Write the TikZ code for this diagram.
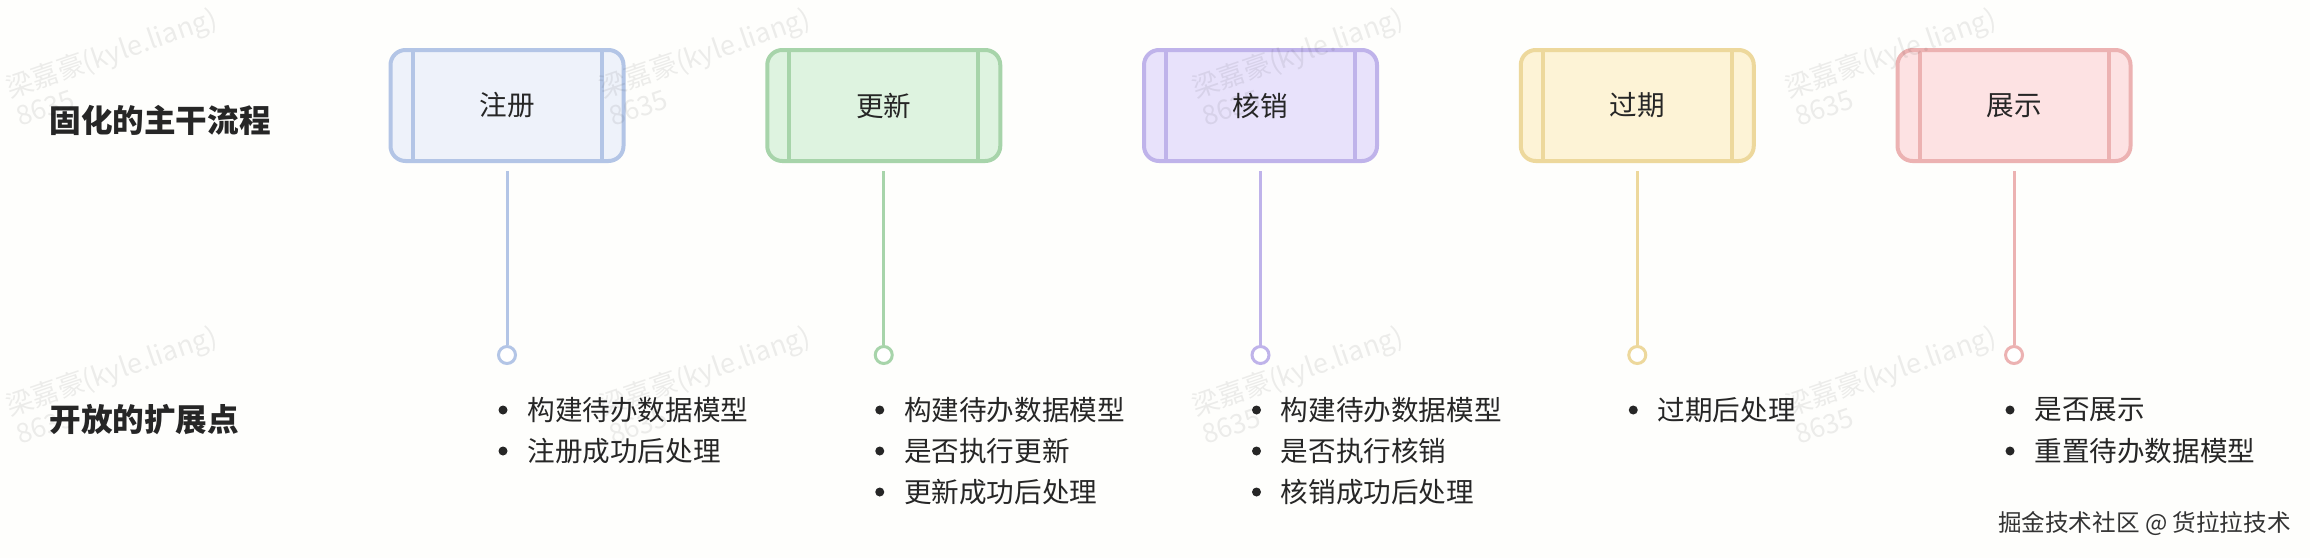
\documentclass[tikz,border=0pt]{standalone}
\usepackage{fontspec}
\setmainfont{Noto Sans CJK SC}
\usetikzlibrary{
arrows.meta,
calc,
positioning,
shapes
}
\definecolor{pagebg}{HTML}{FEFEFC}
\definecolor{txtdark}{HTML}{262626}
\definecolor{regline}{HTML}{B3C5E6}
\definecolor{regfill}{HTML}{EEF2FA}
\definecolor{updline}{HTML}{A7D4AA}
\definecolor{updfill}{HTML}{DEF3E0}
\definecolor{useline}{HTML}{BFB3EA}
\definecolor{usefill}{HTML}{E8E2FB}
\definecolor{expline}{HTML}{EDD89C}
\definecolor{expfill}{HTML}{FDF3D6}
\definecolor{shwline}{HTML}{ECB2B2}
\definecolor{shwfill}{HTML}{FDE2E3}
\tikzset{>=latex}
\tikzset{
	flowbox/.style={draw=#1line, fill=#1fill, line width=2pt, rounded corners=7.5pt,
		minimum width=116.5pt, minimum height=55.5pt, text=txtdark,
		font=\fontsize{13.8pt}{16pt}\selectfont},
	hook/.style={circle, draw=#1line, fill=white, line width=1.5pt, minimum size=8.5pt, inner sep=0pt},
	stem/.style={draw=#1line, line width=1.5pt},
	itemtext/.style={anchor=west, inner sep=0pt, text=txtdark, font=\fontsize{13.8pt}{16pt}\selectfont},
	rowtitle/.style={anchor=west, inner sep=0pt, text=txtdark, font=\bfseries\fontsize{15.8pt}{18pt}\selectfont},
	wmark/.style={align=left, rotate=19, text=black, text opacity=0.07, font=\fontsize{13.5pt}{15pt}\selectfont}
}

\begin{document}
\begin{tikzpicture}[x=0.5pt, y=-0.5pt, every node/.style={scale=1.0}]
	\path[use as bounding box, fill=pagebg] (0,0) rectangle (2310,558);

	\node[rowtitle] (fixed) at (49,120) {固化的主干流程};
	\node[rowtitle] (open) at (49,420) {开放的扩展点};

	\foreach \i/\nm/\cl in {1/注册/reg, 2/更新/upd, 3/核销/use, 4/过期/exp, 5/展示/shw} {
		\node[flowbox=\cl] (box\i) at ({507+376.75*(\i-1)},105.5) {\nm};
		\draw[stem=\cl, line width=2pt] ([xshift=12pt]box\i.north west) -- ([xshift=12pt]box\i.south west);
		\draw[stem=\cl, line width=2pt] ([xshift=-12pt]box\i.north east) -- ([xshift=-12pt]box\i.south east);
		\node[hook=\cl] (hook\i) at ({507+376.75*(\i-1)},355) {};
		\draw[stem=\cl, shorten <=4pt] (box\i) -- (hook\i);
	}

	\node[itemtext] (it11) at ([xshift=10pt,yshift=-27.5pt]hook1) {构建待办数据模型};
	\node[itemtext] (it12) at ([yshift=-20.5pt]it11.west) {注册成功后处理};

	\node[itemtext] (it21) at ([xshift=10pt,yshift=-27.5pt]hook2) {构建待办数据模型};
	\node[itemtext] (it22) at ([yshift=-20.5pt]it21.west) {是否执行更新};
	\node[itemtext] (it23) at ([yshift=-20.5pt]it22.west) {更新成功后处理};

	\node[itemtext] (it31) at ([xshift=10pt,yshift=-27.5pt]hook3) {构建待办数据模型};
	\node[itemtext] (it32) at ([yshift=-20.5pt]it31.west) {是否执行核销};
	\node[itemtext] (it33) at ([yshift=-20.5pt]it32.west) {核销成功后处理};

	\node[itemtext] (it41) at ([xshift=10pt,yshift=-27.5pt]hook4) {过期后处理};

	\node[itemtext] (it51) at ([xshift=10pt,yshift=-27.5pt]hook5) {是否展示};
	\node[itemtext] (it52) at ([yshift=-20.5pt]it51.west) {重置待办数据模型};

	\foreach \n in {it11,it12,it21,it22,it23,it31,it32,it33,it41,it51,it52}
		\fill[txtdark] ([xshift=-12pt]\n.west) circle (2.25pt);

	\node[anchor=east, inner sep=0pt, text=black!80, font=\fontsize{11.8pt}{14pt}\selectfont] (credit) at (2291,524) {掘金技术社区 @ 货拉拉技术};

	\foreach \k in {0,...,3} {
		\node[wmark] (wmtop\k) at ({116+593*\k},66) {梁嘉豪(kyle.liang)\\8635};
		\node[wmark] (wmbot\k) at ({116+593*\k},384) {梁嘉豪(kyle.liang)\\8635};
	}
\end{tikzpicture}
\end{document}
